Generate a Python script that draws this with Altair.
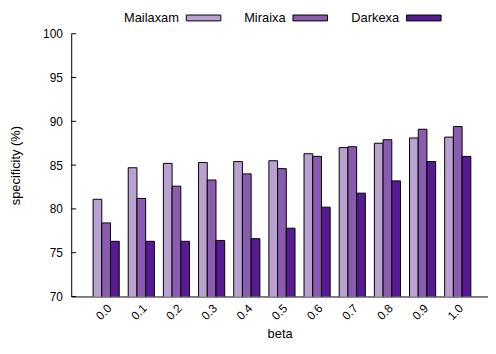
import altair as alt
import pandas as pd

betas = ["0.0", "0.1", "0.2", "0.3", "0.4", "0.5", "0.6", "0.7", "0.8", "0.9", "1.0"]
series = ["Mailaxam", "Miraixa", "Darkexa"]
mailaxam = [81.1, 84.7, 85.2, 85.3, 85.4, 85.5, 86.3, 87.0, 87.5, 88.1, 88.2]
miraixa = [78.4, 81.2, 82.6, 83.3, 84.0, 84.6, 86.0, 87.1, 87.9, 89.1, 89.4]
darkexa = [76.3, 76.3, 76.3, 76.4, 76.6, 77.8, 80.2, 81.8, 83.2, 85.4, 86.0]
colors = ["#b9a2d1", "#8a5caf", "#561b92"]
y_ticks = [70, 75, 80, 85, 90, 95, 100]

rows = []
for name, vals in zip(series, [mailaxam, miraixa, darkexa]):
    for b, v in zip(betas, vals):
        rows.append({"beta": b, "series": name, "value": v})
df = pd.DataFrame(rows)
ticks_df = pd.DataFrame({"t": y_ticks})

FONT = "Liberation Sans"

y_scale = alt.Scale(domain=[70, 100], nice=False, zero=False)

bars = alt.Chart(df).mark_bar(stroke="black", strokeWidth=1, clip=True).encode(
    x=alt.X("beta:N", sort=betas,
            scale=alt.Scale(paddingInner=0.256, paddingOuter=0.555, align=0.56),
            axis=alt.Axis(title="beta", labelAngle=-45, ticks=False, labelPadding=6,
                          titlePadding=6, domainColor="black", labelColor="black",
                          titleColor="black", labelFontSize=12, titleFontSize=13,
                          titleFontWeight="normal", labelFont=FONT, titleFont=FONT)),
    xOffset=alt.XOffset("series:N", sort=series, scale=alt.Scale(paddingInner=0, paddingOuter=0)),
    y=alt.Y("value:Q", scale=y_scale,
            axis=alt.Axis(title="specificity (%)", values=y_ticks, ticks=False, grid=False,
                          labelPadding=9, titlePadding=20, domainColor="black",
                          labelColor="black", titleColor="black", labelFontSize=12,
                          titleFontSize=13, titleFontWeight="normal",
                          labelFont=FONT, titleFont=FONT)),
    fill=alt.Fill("series:N", sort=series,
                  scale=alt.Scale(domain=series, range=colors),
                  legend=alt.Legend(orient="none", legendX=116, legendY=-34,
                                    direction="horizontal", title=None,
                                    symbolType="M-1,-0.17H1V0.17H-1Z", symbolSize=1225,
                                    symbolStrokeColor="black", symbolStrokeWidth=1,
                                    labelAlign="right", labelOffset={"expr": "-43"},
                                    labelFontSize=13, labelFont=FONT, labelColor="black",
                                    columnPadding=21)),
)

tick_marks = alt.Chart(ticks_df).mark_rule(color="black", strokeWidth=1).encode(
    y=alt.Y("t:Q", scale=y_scale),
    x=alt.value(0),
    x2=alt.value(5),
)

chart = alt.layer(bars, tick_marks).properties(
    width=422, height=266,
    autosize=alt.AutoSizeParams(type="none"),
    padding={"left": 64, "top": 24, "right": 0, "bottom": 44},
).configure_view(stroke=None).configure_axis(domainWidth=1)

chart.save("out.html", embed_options={"renderer": "svg", "actions": False})
